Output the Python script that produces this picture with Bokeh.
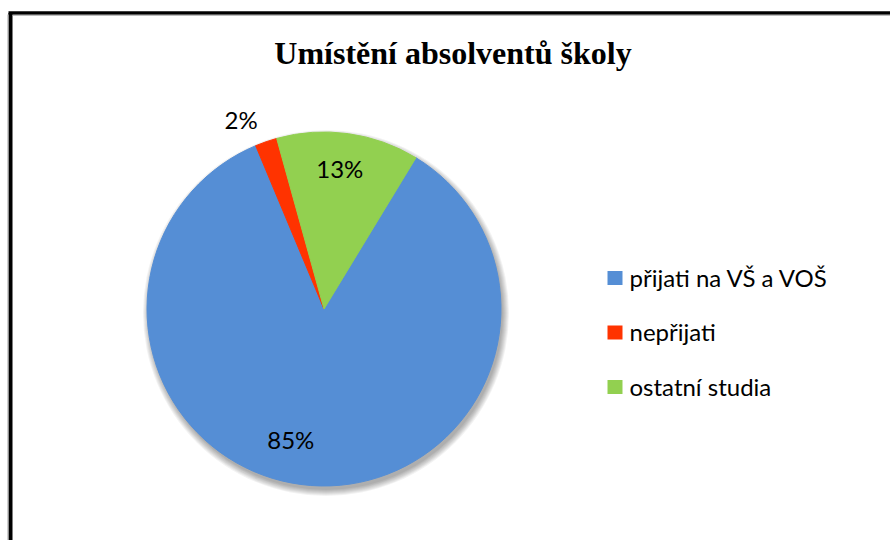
import math
from bokeh.plotting import figure
from bokeh.models import Range1d, ColumnDataSource
from bokeh.core.properties import value
from bokeh.embed import file_html
from bokeh.resources import INLINE

# ---- data ----
title_text = "Umístění absolventů školy"
categories = ["přijati na VŠ a VOŠ", "nepřijati", "ostatní studia"]
values = [85, 2, 13]
colors = ["#558ED5", "#FF3300", "#92D050"]

# ---- layout (pixel coordinates: data unit == screen pixel) ----
W, H = 890, 540
def px(x):  # page x -> data x
    return x
def py(y):  # page y -> data y
    return H - y

first_angle = 31.3          # clockwise offset of first slice from 12 o'clock
cx, cy, R = px(323.5), py(308.5), 177
label_r = [0.76, 1.17, 0.80]
label_shift = [10.0, -4.5, -1.5]

p = figure(width=W, height=H, output_backend="svg", toolbar_location=None,
           x_range=Range1d(0, W), y_range=Range1d(0, H), min_border=0)
p.axis.visible = False
p.grid.visible = False
p.outline_line_color = None
p.background_fill_color = "white"
p.border_fill_color = "white"

# frame lines (left & top visible)
p.segment(x0=[px(10)], y0=[py(12.5)], x1=[px(10)], y1=[0], line_color="black", line_width=4)
p.segment(x0=[px(8)], y0=[py(12.5)], x1=[W], y1=[py(12.5)], line_color="black", line_width=3.5)
p.segment(x0=[px(7.5)], y0=[py(14)], x1=[px(7.5)], y1=[0], line_color="#A0A0A0", line_width=1)
p.segment(x0=[px(12)], y0=[py(14.7)], x1=[W], y1=[py(14.7)], line_color="#A0A0A0", line_width=1)

# title
p.text(x=[px(452.5)], y=[py(52)], text=[title_text], text_font=value("Liberation Serif"),
       text_font_style="bold", text_font_size="32px", text_align="center",
       text_baseline="middle", text_color="black")

# shadow
for k in range(7):
    p.circle(x=[cx + 2], y=[cy - 4], radius=R + k * 1.0, fill_color="black",
             fill_alpha=0.05, line_color=None)

total = sum(values)
starts, ends, lx, ly, labels = [], [], [], [], []
cum = first_angle
for i, v in enumerate(values):
    span = v / total * 360.0
    a0, a1 = cum, cum + span
    starts.append(math.radians(90 - a0))
    ends.append(math.radians(90 - a1))
    mid = (a0 + a1) / 2 + label_shift[i]
    m = math.radians(90 - mid)
    lx.append(cx + label_r[i] * R * math.cos(m))
    ly.append(cy + label_r[i] * R * math.sin(m))
    labels.append(f"{round(v / total * 100)}%")
    cum = a1

src = ColumnDataSource(dict(start=starts, end=ends, color=colors, cat=categories))
p.wedge(x=cx, y=cy, radius=R, start_angle="start", end_angle="end",
        direction="clock", fill_color="color",
        line_color="color", line_width=1, source=src)

p.text(x=lx, y=ly, text=labels, text_font=value("Lato"), text_font_size="24px",
       text_align="center", text_baseline="middle", text_color="black")

# legend
leg_y = [py(277.5), py(332), py(386.5)]
p.rect(x=[px(614.5)] * 3, y=leg_y, width=15, height=14, fill_color=colors, line_color=None)
p.text(x=[px(629)] * 3, y=[y + 1 for y in leg_y], text=categories, text_font=value("Lato"),
       text_font_size="24px", text_align="left", text_baseline="middle", text_color="black")

open("out.html", "w").write(file_html(p, INLINE))
